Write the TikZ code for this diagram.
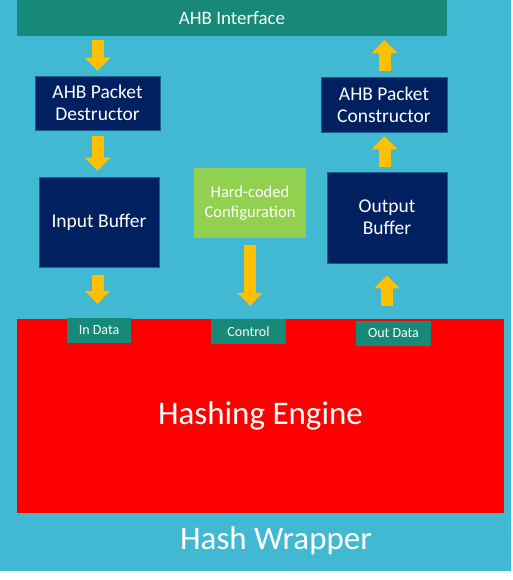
\documentclass[tikz,border=0pt]{standalone}
\usepackage{fontspec}
\setmainfont{Carlito}
\definecolor{wrapblue}{RGB}{66, 185, 211}
\definecolor{busteal}{RGB}{22, 137, 120}
\definecolor{blocknavy}{RGB}{0, 32, 96}
\definecolor{cfggreen}{RGB}{146, 208, 80}
\definecolor{flowyellow}{RGB}{255, 192, 0}
\definecolor{enginered}{RGB}{255, 0, 0}
\usetikzlibrary{arrows.meta, positioning, calc}

\begin{document}
\begin{tikzpicture}[x=1pt, y=-1pt,
  navybox/.style={draw=blocknavy!60!wrapblue, line width=0.8pt, fill=blocknavy, text=white, align=center, inner sep=0pt, font=\fontsize{19.5}{22}\selectfont},
  tab/.style={fill=busteal, text=white, inner sep=0pt, minimum height=25pt, font=\fontsize{14}{16}\selectfont},
  flow/.style={draw=flowyellow, line width=12pt, -{Triangle[width=25pt, length=13pt]}}]
  \useasboundingbox (0, 0) rectangle (512, 580);
  % Wrapper background
  \fill[wrapblue] (0, 0) rectangle (511, 571);
  \node[text=white, font=\fontsize{33}{38}\selectfont] (wrapper) at (276, 541) {Hash Wrapper};

  % Bus interface
  \node[fill=busteal, text=white, minimum width=430pt, minimum height=36pt, inner sep=0pt, font=\fontsize{19}{22}\selectfont] (ahb) at (232, 18) {AHB Interface};

  % Blocks
  \node[navybox, minimum width=125pt, minimum height=54pt] (dest) at (97.5, 103) {AHB Packet\\Destructor};
  \node[navybox, minimum width=120pt, minimum height=90pt] (inbuf) at (99, 222) {Input Buffer};
  \node[fill=cfggreen, text=white, align=center, inner sep=0pt, minimum width=112pt, minimum height=70pt, font=\fontsize{16.5}{19.5}\selectfont] (cfg) at (250, 203) {Hard-coded\\Configuration};
  \node[navybox, minimum width=120pt, minimum height=91pt] (outbuf) at (387, 217.5) {Output\\Buffer};
  \node[navybox, minimum width=126pt, minimum height=55pt] (cons) at (384, 104.5) {AHB Packet\\Constructor};

  % Engine and its ports
  \node[fill=enginered, text=white, minimum width=487pt, minimum height=194pt, inner sep=0pt, font=\fontsize{33}{38}\selectfont] (engine) at (260.5, 416) {Hashing Engine};
  \node[tab, minimum width=64pt] (indata) at (99, 330.5) {In Data};
  \node[tab, minimum width=75pt] (ctrl) at (248.5, 331.5) {Control};
  \node[tab, minimum width=75pt] (outdata) at (393.5, 333.5) {Out Data};

  % Data path down
  \draw[flow, shorten <=4pt, shorten >=5pt] (dest.north |- ahb.south) -- (dest.north);
  \draw[flow, shorten <=6pt, shorten >=6pt] (dest.south) -- (dest.south |- inbuf.north);
  \draw[flow, shorten <=8pt, shorten >=14pt] ($(inbuf.south)+(-1.5,0)$) -- ($(inbuf.south |- indata.north)+(-1.5,0)$);
  \draw[flow, shorten <=7pt, shorten >=13pt] (cfg.south) -- (cfg.south |- ctrl.north);

  % Data path up
  \draw[flow, shorten <=15pt, shorten >=12pt] (outbuf.south |- outdata.north) -- (outbuf.south);
  \draw[flow, shorten <=5pt, shorten >=4pt] ($(outbuf.north)+(-2.5,0)$) -- ($(cons.south)+(0.5,0)$);
  \draw[flow, shorten <=6pt, shorten >=4pt] ($(cons.north)+(0.5,0)$) -- ($(cons.north |- ahb.south)+(0.5,0)$);
\end{tikzpicture}
\end{document}
